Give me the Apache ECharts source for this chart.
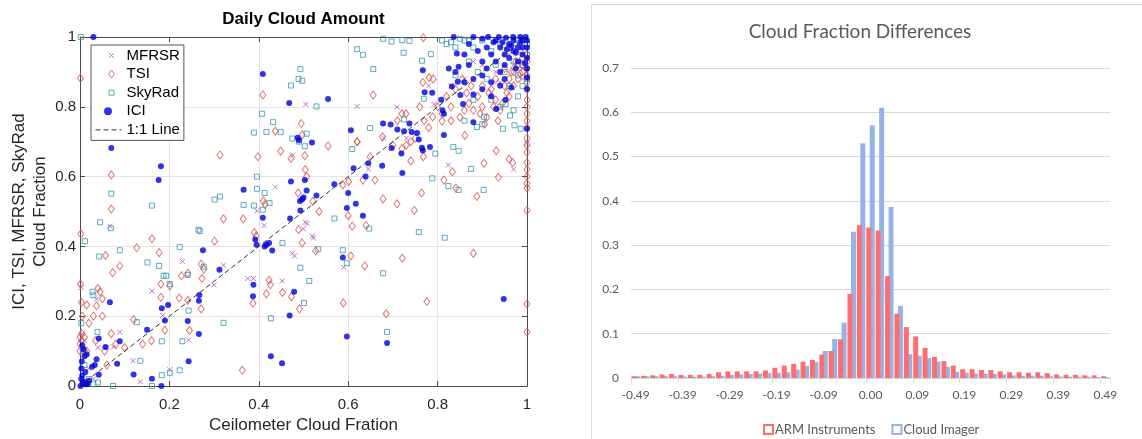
<!DOCTYPE html>
<html><head><meta charset="utf-8">
<script src="https://cdn.jsdelivr.net/npm/echarts@6/dist/echarts.min.js"></script>
<style>html,body{margin:0;padding:0;background:#fff}#c{width:1142px;height:439px}</style>
</head><body><div id="c"></div>
<script>
// ---------- Left panel: Daily Cloud Amount ----------
const scatterTicks = [0, 0.2, 0.4, 0.6, 0.8, 1];
const mfrsr = [[0.505,0.807],[0.62,0.801],[0.709,0.799],[0.476,0.662],[0.437,0.57],[0.396,0.502],[0.412,0.46],[0.504,0.469],[0.508,0.466],[0.52,0.43],[0.522,0.424],[0.5,0.45],[0.48,0.373],[0.375,0.308],[0.388,0.308],[0.452,0.301],[0.321,0.346],[0.3,0.29],[0.229,0.357],[0.243,0.132],[0.161,0.272],[0.089,0.154],[0.075,0.112],[0.119,0.072],[0.135,0.012],[0.185,0.202],[0.201,0.047],[0.067,0.458],[0.037,0.249],[0.003,0.282],[0.005,0.15],[0.01,0.13],[0.004,0.1],[0.02,0.05],[0.04,0.11],[0.06,0.11],[0.03,0.02],[0.824,0.633],[0.97,0.621],[0.792,0.807],[0.645,0.622],[1.0,0.695],[0.86,0.88],[0.9,0.92],[0.93,0.9],[0.96,0.95],[0.98,0.96],[0.88,0.93],[0.94,0.87],[0.97,0.92],[0.99,0.88],[1.0,0.9],[0.83,0.86],[0.78,0.86],[0.73,0.71],[0.68,0.71],[0.475,0.38],[0.59,0.34]];
const tsi = [[0.001,0.882],[0.07,0.605],[0.07,0.507],[0.002,0.436],[0.057,0.374],[0.073,0.325],[0.089,0.344],[0.04,0.28],[0.045,0.27],[0.05,0.25],[0.037,0.23],[0.05,0.2],[0.015,0.232],[0.001,0.292],[0.003,0.24],[0.004,0.15],[0.0,0.14],[0.004,0.13],[0.01,0.1],[0.0,0.1],[0.0,0.12],[0.005,0.2],[0.01,0.14],[0.015,0.1],[0.02,0.18],[0.03,0.2],[0.035,0.13],[0.055,0.1],[0.06,0.06],[0.07,0.15],[0.08,0.12],[0.1,0.11],[0.127,0.396],[0.161,0.422],[0.177,0.382],[0.181,0.292],[0.181,0.254],[0.201,0.287],[0.227,0.316],[0.241,0.323],[0.222,0.252],[0.241,0.245],[0.245,0.159],[0.12,0.19],[0.14,0.12],[0.16,0.13],[0.19,0.16],[0.271,0.349],[0.277,0.335],[0.273,0.308],[0.271,0.221],[0.301,0.415],[0.313,0.662],[0.321,0.479],[0.365,0.479],[0.363,0.045],[0.398,0.657],[0.409,0.834],[0.41,0.53],[0.414,0.52],[0.39,0.44],[0.394,0.43],[0.387,0.237],[0.423,0.303],[0.426,0.29],[0.417,0.264],[0.453,0.268],[0.473,0.256],[0.437,0.73],[0.449,0.673],[0.472,0.652],[0.495,0.752],[0.497,0.72],[0.503,0.66],[0.504,0.62],[0.507,0.6],[0.488,0.553],[0.489,0.448],[0.497,0.41],[0.491,0.221],[0.521,0.529],[0.535,0.5],[0.527,0.387],[0.555,0.688],[0.589,0.238],[0.588,0.576],[0.601,0.586],[0.6,0.488],[0.609,0.458],[0.606,0.373],[0.62,0.7],[0.637,0.344],[0.633,0.59],[0.656,0.834],[0.649,0.657],[0.678,0.536],[0.685,0.207],[0.677,0.714],[0.709,0.522],[0.721,0.366],[0.748,0.503],[0.74,0.645],[0.729,0.78],[0.764,0.553],[0.767,0.87],[0.768,0.657],[0.776,0.242],[0.781,0.884],[0.789,0.771],[0.814,0.59],[0.81,0.759],[0.833,0.614],[0.841,0.567],[0.861,0.718],[0.88,0.38],[0.888,0.543],[0.904,0.638],[0.931,0.674],[0.936,0.598],[0.96,0.65],[0.968,0.64],[1.0,0.235],[1.0,0.155],[1.0,0.503],[1.0,0.567],[0.768,0.998],[0.83,0.8],[0.85,0.77],[0.86,0.79],[0.87,0.81],[0.88,0.79],[0.89,0.83],[0.9,0.86],[0.9,0.8],[0.91,0.77],[0.92,0.85],[0.93,0.88],[0.93,0.82],[0.94,0.79],[0.95,0.86],[0.95,0.91],[0.96,0.83],[0.96,0.88],[0.97,0.9],[0.97,0.86],[0.98,0.92],[0.98,0.88],[0.99,0.9],[0.99,0.94],[1.0,0.93],[1.0,0.91],[1.0,0.89],[1.0,0.87],[1.0,0.95],[1.0,0.85],[1.0,0.82],[1.0,0.8],[1.0,0.78],[1.0,0.76],[1.0,0.74],[1.0,0.71],[1.0,0.69],[1.0,0.67],[1.0,0.64],[1.0,0.62],[1.0,0.6],[1.0,0.58],[0.99,0.92],[0.985,0.895],[0.975,0.93],[0.965,0.9],[0.955,0.84],[0.945,0.81],[0.935,0.76],[0.925,0.8],[0.915,0.84],[0.905,0.75],[0.895,0.78],[0.875,0.86],[0.865,0.84],[0.855,0.88],[0.84,0.85],[0.83,0.76],[0.82,0.83],[0.81,0.78],[0.8,0.8],[0.79,0.88],[0.78,0.74],[0.77,0.76],[0.76,0.8],[0.75,0.71],[0.74,0.7],[0.73,0.69],[0.72,0.68],[0.72,0.78],[0.71,0.76],[0.7,0.69],[0.66,0.59],[0.64,0.46],[0.62,0.7]];
const skyrad = [[0.002,1.0],[0.011,0.415],[0.045,0.469],[0.043,0.371],[0.07,0.551],[0.069,0.452],[0.089,0.389],[0.039,0.155],[0.028,0.27],[0.03,0.26],[0.007,0.1],[0.003,0.18],[0.01,0.06],[0.02,0.02],[0.03,0.005],[0.04,0.01],[0.074,0.0],[0.135,0.072],[0.127,0.183],[0.151,0.354],[0.161,0.517],[0.177,0.344],[0.187,0.316],[0.193,0.316],[0.183,0.128],[0.183,0.031],[0.161,0.0],[0.201,0.292],[0.201,0.038],[0.223,0.398],[0.223,0.045],[0.229,0.128],[0.241,0.318],[0.243,0.216],[0.265,0.448],[0.268,0.444],[0.277,0.342],[0.301,0.534],[0.313,0.543],[0.321,0.181],[0.366,0.519],[0.389,0.726],[0.396,0.6],[0.396,0.565],[0.389,0.517],[0.409,0.505],[0.413,0.553],[0.407,0.78],[0.417,0.728],[0.432,0.756],[0.424,0.524],[0.427,0.194],[0.449,0.728],[0.453,0.41],[0.472,0.861],[0.489,0.88],[0.493,0.908],[0.497,0.875],[0.475,0.709],[0.49,0.7],[0.503,0.687],[0.507,0.723],[0.493,0.339],[0.501,0.238],[0.513,0.301],[0.533,0.392],[0.529,0.801],[0.569,0.48],[0.588,0.389],[0.597,0.352],[0.609,0.679],[0.62,0.965],[0.633,0.949],[0.656,0.908],[0.649,0.739],[0.647,0.451],[0.678,0.323],[0.687,0.155],[0.678,0.995],[0.697,0.987],[0.721,0.991],[0.737,0.989],[0.724,0.955],[0.725,0.764],[0.758,0.441],[0.765,0.932],[0.769,0.823],[0.785,0.951],[0.788,0.595],[0.795,0.666],[0.816,0.425],[0.824,0.573],[0.835,0.685],[0.847,0.562],[0.847,0.674],[0.875,0.622],[0.903,0.562],[0.888,0.742],[0.904,0.771],[0.946,0.737],[0.962,0.775],[0.972,0.747],[0.986,0.737],[0.952,0.808],[0.81,0.99],[0.83,0.985],[0.85,0.995],[0.87,0.99],[0.82,0.98],[0.84,0.97],[0.86,0.99],[0.88,0.97],[0.9,0.99],[0.92,0.96],[0.94,0.98],[0.96,0.97],[0.98,0.99],[1.0,0.98],[0.87,0.93],[0.89,0.9],[0.91,0.88],[0.93,0.92],[0.95,0.9],[0.97,0.93],[0.99,0.92],[1.0,0.95],[0.98,0.89],[0.96,0.86],[0.92,0.82],[0.88,0.82],[0.84,0.89],[0.86,0.76],[0.9,0.75],[0.94,0.8],[0.98,0.83],[1.0,0.88],[0.99,0.86],[0.97,0.79]];
const ici = [[0.03,1.0],[0.07,0.682],[0.067,0.24],[0.181,0.63],[0.176,0.59],[0.409,0.894],[0.468,0.811],[0.555,0.822],[0.366,0.562],[0.409,0.482],[0.392,0.42],[0.395,0.405],[0.413,0.4],[0.417,0.405],[0.423,0.41],[0.43,0.388],[0.388,0.29],[0.387,0.257],[0.275,0.389],[0.312,0.333],[0.267,0.261],[0.266,0.244],[0.266,0.149],[0.243,0.071],[0.241,0.186],[0.197,0.232],[0.183,0.223],[0.19,0.188],[0.15,0.161],[0.161,0.021],[0.12,0.033],[0.182,0.0],[0.089,0.128],[0.083,0.064],[0.057,0.112],[0.042,0.136],[0.042,0.032],[0.037,0.077],[0.027,0.055],[0.033,0.06],[0.005,0.117],[0.008,0.105],[0.01,0.085],[0.004,0.07],[0.003,0.05],[0.005,0.03],[0.009,0.012],[0.013,0.005],[0.017,0.006],[0.006,0.008],[0.003,0.02],[0.012,0.04],[0.015,0.09],[0.02,0.015],[0.001,0.0],[0.427,0.085],[0.452,0.065],[0.479,0.27],[0.469,0.202],[0.472,0.586],[0.47,0.48],[0.487,0.711],[0.49,0.704],[0.519,0.698],[0.492,0.53],[0.497,0.535],[0.5,0.54],[0.503,0.59],[0.507,0.56],[0.529,0.546],[0.493,0.503],[0.569,0.578],[0.6,0.553],[0.597,0.51],[0.588,0.368],[0.597,0.142],[0.617,0.522],[0.606,0.733],[0.612,0.624],[0.633,0.488],[0.639,0.6],[0.645,0.638],[0.676,0.631],[0.678,0.752],[0.695,0.749],[0.697,0.682],[0.719,0.666],[0.721,0.61],[0.687,0.123],[0.948,0.249],[0.71,0.735],[0.725,0.73],[0.742,0.728],[0.754,0.725],[0.758,0.706],[0.737,0.752],[0.765,0.683],[0.767,0.675],[0.783,0.685],[0.771,0.842],[0.767,0.905],[0.788,0.84],[0.814,0.719],[0.808,0.82],[0.811,0.79],[0.814,0.78],[0.825,0.91],[0.843,0.953],[0.847,0.915],[0.845,0.872],[0.851,0.834],[0.832,0.858],[1.0,0.851],[1.0,0.737],[1.0,0.884],[0.952,0.82],[0.931,0.794],[0.88,0.756],[0.857,0.808],[0.836,1.0],[0.88,1.0],[0.913,1.0],[0.937,1.0],[0.953,0.998],[0.969,1.0],[0.985,1.0],[0.997,1.0],[0.86,0.95],[0.87,0.92],[0.88,0.88],[0.89,0.96],[0.9,0.93],[0.9,0.89],[0.91,0.97],[0.91,0.91],[0.92,0.95],[0.92,0.87],[0.93,0.99],[0.93,0.93],[0.94,0.9],[0.94,0.97],[0.95,0.95],[0.95,0.92],[0.96,0.98],[0.96,0.94],[0.97,0.96],[0.97,0.99],[0.98,0.97],[0.98,0.93],[0.99,0.99],[0.99,0.95],[1.0,0.97],[1.0,0.99],[1.0,0.94],[0.985,0.985],[0.965,0.975],[0.945,0.985],[0.955,0.965],[0.975,0.955],[0.99,0.97],[0.87,0.98],[0.9,0.85],[0.92,0.83],[0.95,0.88],[0.975,0.91],[1.0,0.91],[0.995,0.925],[0.88,0.835],[0.86,0.87],[0.84,0.9],[0.9,0.995],[0.925,0.985],[0.965,0.855],[0.94,0.86]];
const oneToOne = [[0, 0], [1, 1]];

// ---------- Right panel: Cloud Fraction Differences ----------
const diffCategories = ['-0.49','-0.47','-0.45','-0.43','-0.41','-0.39','-0.37','-0.35','-0.33','-0.31','-0.29','-0.27','-0.25','-0.23','-0.21','-0.19','-0.17','-0.15','-0.13','-0.11','-0.09','-0.07','-0.05','-0.03','-0.01','0.00','0.01','0.03','0.05','0.07','0.09','0.11','0.13','0.15','0.17','0.19','0.21','0.23','0.25','0.27','0.29','0.31','0.33','0.35','0.37','0.39','0.41','0.43','0.45','0.47','0.49'];
const armInstruments = [0.004,0.005,0.006,0.008,0.009,0.007,0.007,0.007,0.009,0.013,0.015,0.015,0.015,0.015,0.017,0.023,0.028,0.032,0.037,0.041,0.053,0.061,0.087,0.19,0.345,0.34,0.333,0.23,0.145,0.115,0.094,0.068,0.048,0.038,0.028,0.02,0.02,0.018,0.018,0.015,0.013,0.013,0.012,0.013,0.011,0.008,0.007,0.007,0.006,0.006,0.004];
const cloudImager = [0.004,0.004,0.004,0.004,0.004,0.003,0.003,0.003,0.004,0.005,0.007,0.008,0.009,0.01,0.011,0.012,0.013,0.019,0.027,0.036,0.061,0.088,0.125,0.33,0.53,0.57,0.61,0.386,0.163,0.054,0.05,0.045,0.037,0.025,0.014,0.012,0.01,0.01,0.009,0.008,0.006,0.005,0.005,0.005,0.004,0.003,0.003,0.003,0.003,0.002,0.002];
const diffTicks = [0, 0.1, 0.2, 0.3, 0.4, 0.5, 0.6, 0.7];

const C = { mfrsr:'#b24fc4', tsi:'#d4554f', sky:'#3596b0', ici:'#0000e0', arm:'#ff6e6e', img:'#96b3e6' };
const leftFont = 'Liberation Sans, Arial, sans-serif';
const rightFont = 'Lato, Calibri, sans-serif';
const axisCol = '#4a4a4a';

// legend icons (27x8 boxes, symbol drawn near the middle)
const ICON_BOX = 'M0,0M27,0M0,8M27,8';
const icons = {
  mfrsr: 'path://' + ICON_BOX + 'M14.5,1.5L19.5,6.5M19.5,1.5L14.5,6.5',
  tsi:   'path://' + ICON_BOX + 'M17,0L20,4L17,8L14,4Z',
  sky:   'path://' + ICON_BOX + 'M14.5,1.5L19.5,1.5L19.5,6.5L14.5,6.5Z',
  ici:   'circle',
  line:  'path://' + ICON_BOX + 'M1,4L6,4M9,4L14,4M17,4L22,4M25,4L27,4'
};

const chart = echarts.init(document.getElementById('c'), null, {renderer:'canvas'});
const fmtL = v => (v === 0 ? '0' : v === 1 ? '1' : v.toFixed(1));
const fmtR = v => (v === 0 ? '0' : v.toFixed(1));

chart.setOption({
  animation: false,
  backgroundColor: '#fff',
  graphic: [{ type:'rect', shape:{x:591.5, y:4.5, width:560, height:450}, style:{fill:'none', stroke:'#d9d9d9', lineWidth:1}, silent:true }],
  title: [
    { text:'Daily Cloud Amount', left:303.5, textAlign:'center', top:11, padding:0,
      textStyle:{fontFamily:leftFont, fontSize:17, fontWeight:'bold', color:'#000'} },
    { text:'Cloud Fraction Differences', left:860, textAlign:'center', top:22, padding:0,
      textStyle:{fontFamily:rightFont, fontSize:19, fontWeight:'normal', color:'#595959'} }
  ],
  legend: [
    { data:[
        {name:'MFRSR', icon:icons.mfrsr, itemStyle:{color:'rgba(0,0,0,0)', borderColor:C.mfrsr, borderWidth:1}},
        {name:'TSI', icon:icons.tsi, itemStyle:{color:'rgba(0,0,0,0)', borderColor:C.tsi, borderWidth:1}},
        {name:'SkyRad', icon:icons.sky, itemStyle:{color:'rgba(0,0,0,0)', borderColor:C.sky, borderWidth:1}},
        {name:'ICI', icon:icons.ici, itemStyle:{color:C.ici, borderWidth:0}},
        {name:'1:1 Line', icon:icons.line, itemStyle:{color:'rgba(0,0,0,0)', borderColor:'#333', borderWidth:1}}
      ],
      orient:'vertical', left:91, top:45,
      padding:[3,4,3,3], itemGap:3.6, itemWidth:27, itemHeight:8,
      backgroundColor:'#fff', borderColor:'#555', borderWidth:1, borderRadius:0,
      textStyle:{fontFamily:leftFont, fontSize:15, color:'#000'}, selectedMode:false },
    { data:[
        {name:'ARM Instruments', itemStyle:{color:'#fff', borderColor:C.arm, borderWidth:2}},
        {name:'Cloud Imager', itemStyle:{color:'#fff', borderColor:C.img, borderWidth:2}}
      ],
      left:763, top:423, padding:0, itemGap:16, itemWidth:9, itemHeight:9, icon:'rect',
      textStyle:{fontFamily:rightFont, fontSize:13, color:'#595959', padding:[0,0,0,-3]}, selectedMode:false }
  ],
  grid: [
    { left:80, top:37, width:447, height:349 },
    { left:631, top:68, width:479, height:310 }
  ],
  xAxis: [
    { gridIndex:0, type:'value', min:0, max:1, interval:0.2, position:'bottom',
      name:'Ceilometer Cloud Fration', nameLocation:'middle', nameGap:30,
      nameTextStyle:{fontFamily:leftFont, fontSize:17, color:'#262626'},
      axisLine:{show:true, onZero:false, lineStyle:{color:axisCol}},
      axisTick:{show:true, inside:true, length:5, lineStyle:{color:axisCol}},
      axisLabel:{fontFamily:leftFont, fontSize:15, color:'#262626', margin:11, formatter:fmtL},
      splitLine:{show:true, lineStyle:{color:'#e4e4e4'}} },
    { gridIndex:0, type:'value', min:0, max:1, interval:0.2, position:'top',
      axisLine:{show:true, onZero:false, lineStyle:{color:axisCol}},
      axisTick:{show:true, inside:true, length:5, lineStyle:{color:axisCol}},
      axisLabel:{show:false}, splitLine:{show:false} },
    { gridIndex:1, type:'category', data:diffCategories, boundaryGap:true,
      axisLine:{show:true, lineStyle:{color:'#d9d9d9'}},
      axisTick:{show:true, interval:4, length:5, lineStyle:{color:'#d9d9d9'}},
      axisLabel:{interval:4, fontFamily:rightFont, fontSize:12, color:'#595959', margin:11},
      splitLine:{show:false} }
  ],
  yAxis: [
    { gridIndex:0, type:'value', min:0, max:1, interval:0.2, position:'left',
      name:'ICI, TSI, MFRSR, SkyRad\nCloud Fraction', nameLocation:'middle', nameGap:27, nameRotate:90,
      nameTextStyle:{fontFamily:leftFont, fontSize:17, color:'#262626', lineHeight:21},
      axisLine:{show:true, onZero:false, lineStyle:{color:axisCol}},
      axisTick:{show:true, inside:true, length:5, lineStyle:{color:axisCol}},
      axisLabel:{fontFamily:leftFont, fontSize:15, color:'#262626', margin:4, formatter:fmtL},
      splitLine:{show:true, lineStyle:{color:'#e4e4e4'}} },
    { gridIndex:0, type:'value', min:0, max:1, interval:0.2, position:'right',
      axisLine:{show:true, onZero:false, lineStyle:{color:axisCol}},
      axisTick:{show:true, inside:true, length:5, lineStyle:{color:axisCol}},
      axisLabel:{show:false}, splitLine:{show:false} },
    { gridIndex:1, type:'value', min:0, max:0.7, interval:0.1,
      axisLine:{show:false}, axisTick:{show:false},
      axisLabel:{fontFamily:rightFont, fontSize:12, color:'#595959', margin:12, formatter:fmtR},
      splitLine:{show:true, lineStyle:{color:'#d9d9d9', width:1}} }
  ],
  series: [
    { name:'MFRSR', type:'scatter', xAxisIndex:0, yAxisIndex:0, data:mfrsr, z:3,
      symbol:'path://M0,0L10,10M10,0L0,10', symbolSize:5,
      itemStyle:{color:'rgba(0,0,0,0)', borderColor:C.mfrsr, borderWidth:1} },
    { name:'TSI', type:'scatter', xAxisIndex:0, yAxisIndex:0, data:tsi, z:3,
      symbol:'diamond', symbolSize:[6,8],
      itemStyle:{color:'rgba(0,0,0,0)', borderColor:C.tsi, borderWidth:1} },
    { name:'SkyRad', type:'scatter', xAxisIndex:0, yAxisIndex:0, data:skyrad, z:3,
      symbol:'rect', symbolSize:5,
      itemStyle:{color:'rgba(0,0,0,0)', borderColor:C.sky, borderWidth:1} },
    { name:'ICI', type:'scatter', xAxisIndex:0, yAxisIndex:0, data:ici, z:4,
      symbol:'circle', symbolSize:6,
      itemStyle:{color:C.ici} },
    { name:'1:1 Line', type:'line', xAxisIndex:0, yAxisIndex:0, data:oneToOne, z:5,
      symbol:'none', lineStyle:{color:'#333', width:1, type:[5,3]}, itemStyle:{color:'#333'} },
    { name:'ARM Instruments', type:'bar', xAxisIndex:2, yAxisIndex:2, data:armInstruments,
      barWidth:5, barGap:'-30%', z:3, clip:false,
      itemStyle:{color:C.arm, borderWidth:0} },
    { name:'Cloud Imager', type:'bar', xAxisIndex:2, yAxisIndex:2, data:cloudImager,
      barWidth:5, barGap:'-30%', z:2, clip:false,
      itemStyle:{color:C.img, borderWidth:0} }
  ]
});
</script></body></html>
